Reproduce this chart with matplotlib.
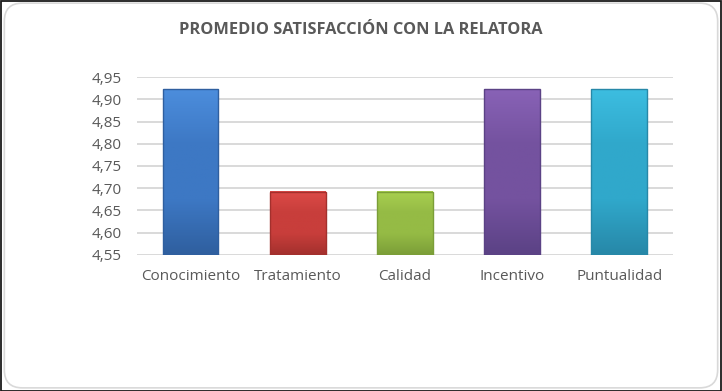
import numpy as np
import matplotlib
matplotlib.use("Agg")
import matplotlib.pyplot as plt
from matplotlib.colors import LinearSegmentedColormap
from matplotlib.patches import FancyBboxPatch, Rectangle

# data
categorias = ["Conocimiento", "Tratamiento", "Calidad", "Incentivo", "Puntualidad"]
promedios = [4.923, 4.692, 4.692, 4.923, 4.923]
ticks = [4.55, 4.60, 4.65, 4.70, 4.75, 4.80, 4.85, 4.90, 4.95]
titulo = "PROMEDIO SATISFACCIÓN CON LA RELATORA"

# light (top) / mid / dark (bottom) shade for each bar
tonos = [("#4c8ddc", "#3d78c4", "#2f5f9f"), ("#dc4a47", "#c83e3b", "#a3302d"),
         ("#a8cf50", "#95bb45", "#7b9e38"), ("#8862b6", "#74529f", "#5b4285"),
         ("#3cbde0", "#30a8cb", "#2788a8")]

plt.rcParams["font.family"] = ["Open Sans", "DejaVu Sans"]

fig = plt.figure(figsize=(7.22, 3.91), dpi=100)
fig.patch.set_facecolor("white")

# outer frame and rounded inner border
fig.add_artist(Rectangle((0.001, 0.001), 0.997, 0.996, transform=fig.transFigure,
                         fill=False, edgecolor="#1a1a1a", linewidth=1.3))
fig.add_artist(FancyBboxPatch((0.006, 0.008), 0.988, 0.984, transform=fig.transFigure,
                              boxstyle="round,pad=0,rounding_size=0.025",
                              fill=False, edgecolor="#d9d9d9", linewidth=1.2,
                              mutation_aspect=722 / 391))

ax = fig.add_axes([0.1898, 0.348, 0.742, 0.455])
x = np.arange(len(categorias))
bars = ax.bar(x, promedios, width=0.52, color="none", edgecolor="none", zorder=3)

for b, (claro, medio, oscuro) in zip(bars, tonos):
    cmap = LinearSegmentedColormap.from_list("g", [oscuro, medio, medio, claro])
    grad = np.linspace(0, 1, 100).reshape(-1, 1)
    x0, x1 = b.get_x(), b.get_x() + b.get_width()
    y0, y1 = 4.55, b.get_height()
    ax.imshow(grad, cmap=cmap, origin="lower", aspect="auto",
              extent=(x0, x1, y0, y1), zorder=3)
    ax.add_patch(Rectangle((x0, y0), x1 - x0, y1 - y0, fill=False,
                           edgecolor=oscuro, linewidth=1.0, zorder=4))

ax.set_xlim(-0.5, len(categorias) - 0.5)
ax.set_ylim(4.55, 4.95)
ax.set_yticks(ticks)
ax.set_yticklabels([f"{t:.2f}".replace(".", ",") for t in ticks])
ax.set_xticks(x)
ax.set_xticklabels(categorias)
ax.tick_params(axis="both", length=0, labelsize=11, colors="#595959")
ax.tick_params(axis="x", pad=10)
ax.tick_params(axis="y", pad=11)
ax.grid(axis="y", color="#d9d9d9", linewidth=1.4, zorder=0)
ax.set_axisbelow(True)
for s in ax.spines.values():
    s.set_visible(False)

fig.text(0.5, 0.922, titulo, ha="center", va="center", fontsize=11.8,
         fontweight="bold", color="#595959")

fig.savefig("out.png", dpi=100)
